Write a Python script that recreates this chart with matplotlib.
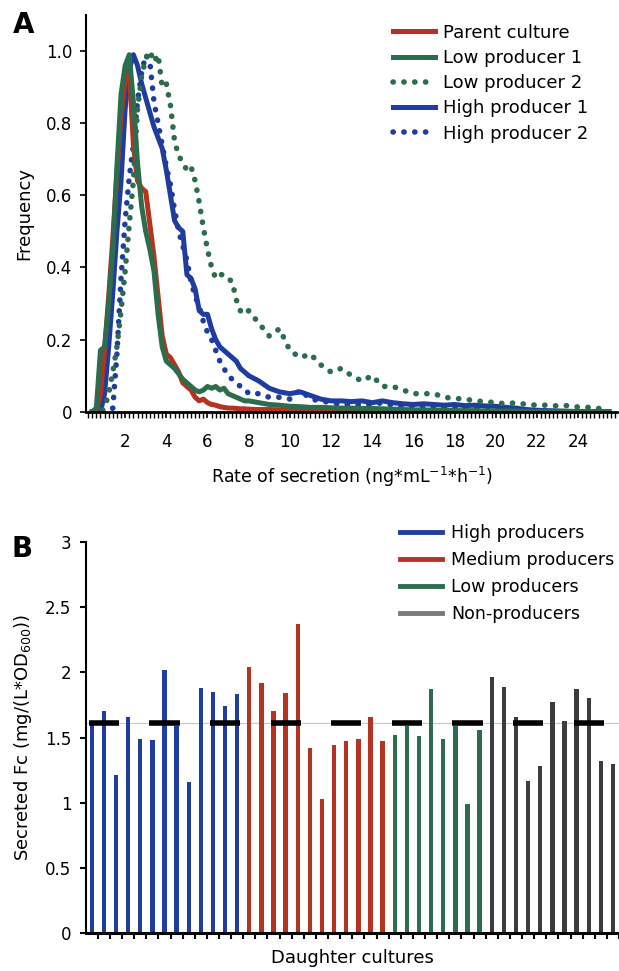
import numpy as np
import matplotlib.pyplot as plt
from matplotlib.lines import Line2D
from matplotlib.ticker import MultipleLocator

plt.rcParams['font.family'] = ['DejaVu Sans']

# ---- panel A: secretion rate distributions ----
# bin centres: fine bins near the peak, coarser in the tail
rate = np.concatenate([np.arange(0.4, 8.01, 0.2), np.arange(8.5, 25.51, 0.5)])

parent = [0, 0, 0.05, 0.17, 0.32, 0.48, 0.66, 0.82, 0.92, 0.95,
          0.74, 0.64, 0.62, 0.61, 0.52, 0.43, 0.32, 0.21, 0.16, 0.15,
          0.13, 0.11, 0.08, 0.07, 0.06, 0.04, 0.03, 0.035, 0.025, 0.02,
          0.018, 0.014, 0.012, 0.01, 0.01, 0.009, 0.008, 0.008, 0.007,
          0.006, 0.006, 0.005, 0.005, 0.004, 0.003, 0.002, 0.001,
          0, 0, 0, 0, 0, 0, 0, 0, 0, 0, 0, 0, 0, 0, 0, 0, 0, 0, 0, 0,
          0, 0, 0, 0, 0, 0, 0]
low1 = [0, 0.01, 0.17, 0.18, 0.30, 0.45, 0.68, 0.88, 0.96, 0.99,
        0.86, 0.69, 0.57, 0.50, 0.45, 0.39, 0.27, 0.18, 0.14, 0.13,
        0.12, 0.105, 0.09, 0.08, 0.07, 0.06, 0.055, 0.06, 0.07, 0.065,
        0.07, 0.06, 0.065, 0.05, 0.045, 0.04, 0.035, 0.03, 0.03,
        0.025, 0.02, 0.018, 0.015, 0.014, 0.012, 0.012, 0.011,
        0.01, 0.01, 0.009, 0.009, 0.008, 0.007, 0.006, 0.005,
        0.005, 0.004, 0.004, 0.003, 0.003, 0.003, 0.002, 0.002,
        0.002, 0.002, 0.001, 0.001, 0.001, 0.001, 0.001, 0.001,
        0, 0, 0]
low2 = [0, 0, 0, 0.01, 0.05, 0.11, 0.18, 0.28, 0.39, 0.52,
        0.64, 0.84, 0.93, 0.98, 1.0, 0.97, 0.99, 0.90, 0.91, 0.85,
        0.75, 0.71, 0.69, 0.67, 0.68, 0.64, 0.58, 0.51, 0.45, 0.40,
        0.37, 0.38, 0.38, 0.37, 0.36, 0.31, 0.28, 0.27, 0.28,
        0.245, 0.21, 0.23, 0.17, 0.15, 0.16, 0.13, 0.11,
        0.12, 0.10, 0.085, 0.10, 0.07, 0.07, 0.06, 0.05,
        0.05, 0.05, 0.04, 0.037, 0.035, 0.03, 0.028, 0.025,
        0.022, 0.025, 0.02, 0.018, 0.018, 0.016, 0.017, 0.013,
        0.012, 0.009, 0.006]
high1 = [0, 0, 0, 0.05, 0.18, 0.33, 0.50, 0.64, 0.84, 0.95,
         0.99, 0.96, 0.91, 0.87, 0.83, 0.79, 0.76, 0.73, 0.67, 0.60,
         0.53, 0.51, 0.50, 0.38, 0.37, 0.34, 0.28, 0.27, 0.27, 0.23,
         0.20, 0.18, 0.17, 0.16, 0.15, 0.14, 0.12, 0.11, 0.10,
         0.085, 0.065, 0.055, 0.05, 0.055, 0.045, 0.035, 0.03,
         0.03, 0.028, 0.03, 0.025, 0.03, 0.025, 0.022, 0.02,
         0.022, 0.02, 0.018, 0.02, 0.017, 0.018, 0.016, 0.015,
         0.012, 0.01, 0.006, 0.004, 0.003, 0.002, 0.001, 0,
         0, 0, 0]
high2 = [0, 0, 0, 0, 0, 0.01, 0.16, 0.37, 0.53, 0.65,
         0.74, 0.86, 0.94, 0.99, 0.97, 0.86, 0.80, 0.74, 0.68, 0.63,
         0.56, 0.50, 0.46, 0.42, 0.36, 0.32, 0.29, 0.25, 0.22, 0.20,
         0.17, 0.14, 0.12, 0.10, 0.09, 0.08, 0.07, 0.065, 0.05,
         0.05, 0.04, 0.04, 0.035, 0.06, 0.035, 0.03, 0.025,
         0.02, 0.02, 0.02, 0.02, 0.025, 0.018, 0.015, 0.015,
         0.012, 0.012, 0.01, 0.01, 0.01, 0.008, 0.008, 0.006,
         0.005, 0.004, 0.003, 0.002, 0.001, 0, 0, 0,
         0, 0, 0]

# ---- panel B: secreted Fc per daughter culture ----
high_fc = [1.61, 1.70, 1.21, 1.66, 1.49, 1.48, 2.02, 1.59, 1.16, 1.88, 1.85, 1.74, 1.83]
medium_fc = [2.04, 1.92, 1.70, 1.84, 2.37, 1.42, 1.03, 1.44, 1.47, 1.49, 1.66, 1.47]
low_fc = [1.52, 1.59, 1.51, 1.87, 1.49, 1.59, 0.99, 1.56]
non_fc = [1.96, 1.89, 1.66, 1.17, 1.28, 1.77, 1.63, 1.87, 1.80, 1.32, 1.30]
mean_fc = 1.61

red = '#b5331f'
green = '#2b6d4c'
blue = '#1f3d9e'
grey = '#3c3c3c'

fig = plt.figure(figsize=(6.19, 9.71), dpi=100)

# ---------------- A ----------------
ax = fig.add_axes([0.139, 0.576, 0.858, 0.4085])
dots = (0, (0.05, 1.9))
ax.plot(rate, high2, color=blue, lw=4.0, ls=dots, dash_capstyle='round', label='High producer 2')
ax.plot(rate, high1, color=blue, lw=3.6, label='High producer 1')
ax.plot(rate, parent, color=red, lw=3.6, label='Parent culture')
ax.plot(rate, low1, color=green, lw=3.6, label='Low producer 1')
ax.plot(rate, low2, color=green, lw=4.0, ls=dots, dash_capstyle='round', label='Low producer 2')

ax.set_xlim(0.1, 25.9)
ax.set_ylim(0, 1.1)
ax.set_yticks([0, 0.2, 0.4, 0.6, 0.8, 1.0])
ax.set_yticklabels(['0', '0.2', '0.4', '0.6', '0.8', '1.0'])
ax.set_xticks(np.arange(2, 25, 2))
ax.xaxis.set_minor_locator(MultipleLocator(0.2))
ax.tick_params(axis='both', direction='out', length=4, width=1.2, labelsize=12, color='black')
ax.tick_params(axis='x', which='minor', direction='out', length=4, width=1.0)
ax.tick_params(axis='x', pad=11)
ax.tick_params(axis='y', pad=6)
for s in ['top', 'right']:
    ax.spines[s].set_visible(False)
ax.spines['left'].set_linewidth(1.5)
ax.spines['bottom'].set_linewidth(2.0)
ax.set_xlabel('Rate of secretion (ng*mL$^{-1}$*h$^{-1}$)', fontsize=12.5, labelpad=10)
ax.set_ylabel('Frequency', fontsize=13, labelpad=9)

h, l = ax.get_legend_handles_labels()
order = [2, 3, 4, 1, 0]
ax.legend([h[i] for i in order], [l[i] for i in order], loc='upper left',
          bbox_to_anchor=(0.578, 0.978), frameon=False, fontsize=13,
          borderpad=0, borderaxespad=0,
          handlelength=2.3, handletextpad=0.45, labelspacing=0.4)
fig.text(0.02, 0.966, 'A', fontsize=20, fontweight='bold')

# ---------------- B ----------------
bx = fig.add_axes([0.139, 0.0388, 0.861, 0.4033])
groups = [(high_fc, blue), (medium_fc, red), (low_fc, green), (non_fc, grey)]
start = 0
for vals, col in groups:
    pos = np.arange(start, start + len(vals))
    bx.bar(pos, vals, width=0.36, color=col, zorder=2)
    start += len(vals)
n_bars = start

bx.axhline(mean_fc, color='#c8c8c8', lw=0.8, zorder=1)
for c in range(1, n_bars, 5):
    bx.plot([c - 1.25, c + 1.25], [mean_fc, mean_fc], color='black', lw=4,
            solid_capstyle='butt', zorder=3)

bx.set_xlim(-0.47, 43.22)
bx.set_ylim(0, 3)
bx.set_yticks([0, 0.5, 1, 1.5, 2, 2.5, 3])
bx.set_yticklabels(['0', '0.5', '1', '1.5', '2', '2.5', '3'])
bx.set_xticks(np.arange(n_bars) + 0.5)
bx.set_xticklabels([])
bx.tick_params(axis='both', direction='out', length=4.5, width=1.5, labelsize=12)
bx.tick_params(axis='y', pad=6)
for s in ['top', 'right']:
    bx.spines[s].set_visible(False)
bx.spines['left'].set_linewidth(1.5)
bx.spines['bottom'].set_linewidth(2.2)
bx.set_xlabel('Daughter cultures', fontsize=13, labelpad=3)
bx.set_ylabel('Secreted Fc (mg/(L*OD$_{600}$))', fontsize=13, labelpad=8)

leg_handles = [Line2D([], [], color=blue, lw=3.5),
               Line2D([], [], color=red, lw=3.5),
               Line2D([], [], color=green, lw=3.5),
               Line2D([], [], color='#7a7a7a', lw=3.5)]
leg_labels = ['High producers', 'Medium producers', 'Low producers', 'Non-producers']
bx.legend(leg_handles, leg_labels, loc='upper left', bbox_to_anchor=(0.589, 1.045),
          frameon=False, fontsize=12.5, borderpad=0, borderaxespad=0,
          handlelength=2.4, handletextpad=0.55, labelspacing=0.52)
fig.text(0.019, 0.4264, 'B', fontsize=20, fontweight='bold')

fig.savefig('out.png', dpi=100)
